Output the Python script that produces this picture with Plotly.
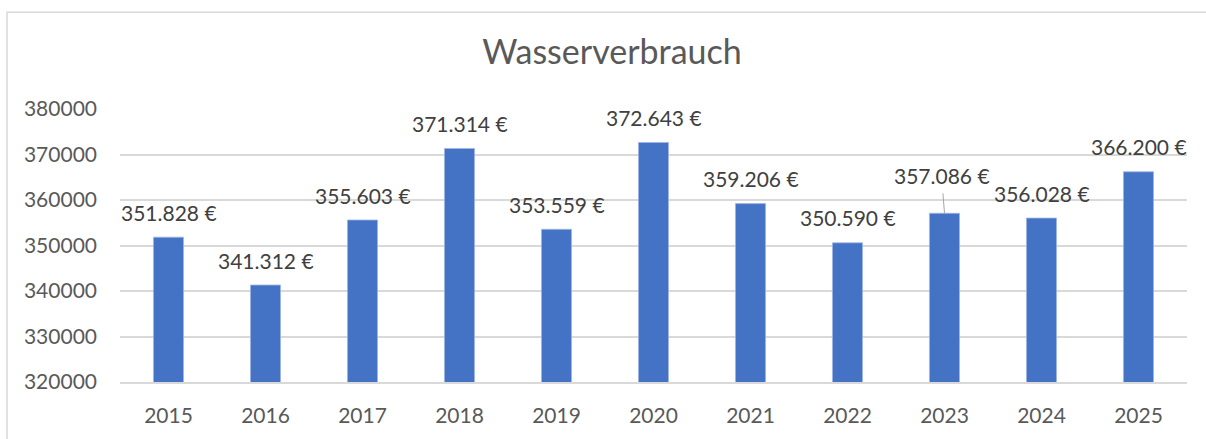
import plotly.graph_objects as go

years = [2015, 2016, 2017, 2018, 2019, 2020, 2021, 2022, 2023, 2024, 2025]
values = [351828, 341312, 355603, 371314, 353559, 372643, 359206, 350590, 357086, 356028, 366200]
title_text = "Wasserverbrauch"
y_ticks = [320000, 330000, 340000, 350000, 360000, 370000, 380000]

FONT = "Lato"
W, H = 1206, 439
L, R, T, B = 120, 19, 109, 51
pw, ph = W - L - R, H - T - B

def fmt(v):
    return f"{v:,}".replace(",", ".") + " €"

fig = go.Figure()
fig.add_trace(go.Bar(
    x=years, y=values,
    marker=dict(color="#4472C4", line=dict(color="#9fb6e3", width=0.8)),
    width=0.31,
    hoverinfo="skip",
))

annotations = []
for yr, v in zip(years, values):
    if yr == 2023:
        annotations.append(dict(
            x=yr, y=v, xref="x", yref="y", text=fmt(v),
            showarrow=True, ax=-3, ay=-38, arrowhead=0, arrowwidth=1,
            arrowcolor="#a6a6a6", standoff=0, startstandoff=4,
            font=dict(family=FONT, size=21, color="#404040"),
        ))
    else:
        annotations.append(dict(
            x=yr, y=v, xref="x", yref="y", text=fmt(v),
            showarrow=False, yanchor="middle", yshift=25,
            font=dict(family=FONT, size=21, color="#404040"),
        ))

fig.update_layout(
    width=W, height=H,
    margin=dict(l=L, r=R, t=T, b=B),
    paper_bgcolor="white", plot_bgcolor="white",
    showlegend=False,
    title=dict(text=title_text, x=(612 - L) / pw, xref="paper", xanchor="center",
               y=1 - 52 / H, yref="container", yanchor="middle",
               font=dict(family=FONT, size=34, color="#595959")),
    annotations=annotations,
    shapes=[dict(type="rect", xref="paper", yref="paper",
                 x0=(7 - L) / pw, x1=1.05, y0=-0.4, y1=(H - B - 10) / ph,
                 line=dict(color="#d9d9d9", width=1.5), fillcolor="rgba(0,0,0,0)",
                 layer="below")],
    xaxis=dict(range=[years[0] - 0.5, years[-1] + 0.5], tickvals=years,
               ticktext=[str(y) for y in years],
               showgrid=False, showline=True, linecolor="#d9d9d9",
               linewidth=1.5, ticks="", ticklabelstandoff=14, zeroline=False,
               tickfont=dict(family=FONT, size=21, color="#595959")),
    yaxis=dict(range=[320000, 380000], tickvals=y_ticks,
               ticktext=[str(t) for t in y_ticks],
               showgrid=True, gridcolor="#d9d9d9", gridwidth=1.5,
               zeroline=False, showline=False, ticks="", ticklabelstandoff=22,
               tickfont=dict(family=FONT, size=21, color="#595959")),
)

fig.write_html("out.html")
